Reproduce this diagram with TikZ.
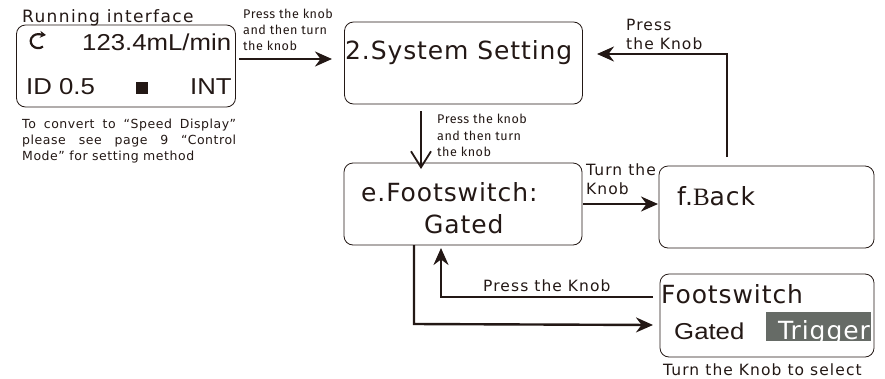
\documentclass[tikz,border=0pt]{standalone}
\usepackage{fontspec}
\usepackage{tikz}
\usetikzlibrary{arrows.meta}
\setmainfont{DejaVu Sans}
\newfontfamily\bigfont[LetterSpace=3.6]{DejaVu Sans}
\newfontfamily\midfont[LetterSpace=8]{DejaVu Sans}
\newfontfamily\labfont[LetterSpace=7]{DejaVu Sans}
\newfontfamily\notefont[LetterSpace=4.3]{DejaVu Sans}
\newfontfamily\armfont[FakeStretch=1.12]{Liberation Sans}
\newfontfamily\smallfont[LetterSpace=4]{Fira Sans}
\newfontfamily\backfont{Liberation Serif}
\definecolor{ink}{HTML}{231815}
\definecolor{selgrey}{HTML}{666B66}
\tikzset{
	every node/.style={inner sep=0pt, anchor=base west, text=ink}
}
\tikzset{
	screen/.style={draw=ink, line width=0.8pt, rounded corners=9pt, anchor=center,
		minimum height=82pt, minimum width=238pt},
	big/.style={font=\bigfont\fontsize{25}{25}\selectfont},
	mid/.style={font=\midfont\fontsize{17}{17}\selectfont},
	lcd/.style={font=\armfont\fontsize{23}{23}\selectfont},
	lab/.style={font=\labfont\fontsize{15.5}{15.5}\selectfont},
	tiny/.style={font=\smallfont\fontsize{12.6}{12.6}\selectfont},
	note/.style={font=\notefont\fontsize{12.5}{12.5}\selectfont},
	flow/.style={draw=ink, line width=2.4pt, line join=miter, -{Stealth[length=17pt,width=15pt]}},
	thinflow/.style={draw=ink, line width=1.8pt, -{Straight Barb[length=16pt,width=20pt,line width=1.8pt]}}
}

\begin{document}
\begin{tikzpicture}[x=1pt,y=-1pt]
	\useasboundingbox (0,0) rectangle (885,378);
	\node (run) [screen, minimum width=219pt] at (126,66) {};
	\node (sys) [screen] at (463.5,63) {};
	\node (foot) [screen] at (463,204) {};
	\node (back) [screen, minimum width=215pt] at (766.5,207) {};
	\node (sel) [screen, minimum width=214pt, minimum height=83pt] at (767,315.5) {};
	\fill [selgrey] (766,312) rectangle (871,341);

	\node (runtitle) [mid] at (22,22) {Running interface};
	\node (rate) [lcd] at (82,50) {123.4mL/min};
	\node (idval) [lcd] at (26,94) {ID 0.5};
	\node (stopmark) [fill=ink, minimum size=12pt, anchor=center] at (141.5,88) {};
	\node (intmode) [lcd] at (190,94) {INT};
	\draw [ink, line width=2.2pt, -{Stealth[length=6pt,width=7pt]}] (43,46.5) arc (-50:-270:7.5pt and 7pt) -- (46,35);

	\node (note1) [note] at (22,128) {\makebox[214pt][s]{To convert  to “Speed Display”}};
	\node (note2) [note] at (22,144) {\makebox[214pt][s]{please see page 9 “Control}};
	\node (note3) [note] at (22,160) {Mode” for setting method};

	\node (systext) [big] at (345,59) {2.System Setting};
	\node (foottext) [big] at (361,201) {e.Footswitch:};
	\node (gatedtext) [big] at (424,233) {Gated};
	\node (backtext) [big] at (677,205) {f.{\backfont B}ack};
	\node (seltitle) [big] at (661,303) {Footswitch};
	\node (selgated) [lcd] at (674,339) {Gated};
	\begin{scope}
		\clip (766,312) rectangle (871,341);
		\node (seltrig) [big, text=white] at (778,339) {Trigger};
	\end{scope}

	\node (hint1a) [tiny] at (243,18) {Press the knob};
	\node (hint1b) [tiny] at (243,34) {and then turn};
	\node (hint1c) [tiny] at (243,50) {the knob};
	\node (hint2a) [tiny] at (437,123) {Press the knob};
	\node (hint2b) [tiny] at (437,140) {and then turn};
	\node (hint2c) [tiny] at (437,156) {the knob};
	\node (hint3a) [lab] at (626,30) {Press};
	\node (hint3b) [lab] at (626,49) {the Knob};
	\node (hint4a) [lab] at (586,175) {Turn the};
	\node (hint4b) [lab] at (586,194) {Knob};
	\node (hint5) [lab] at (483,291) {Press the Knob};
	\node (hint6) [lab] at (663,375) {Turn the Knob to select};

	\coordinate (runout) at (239,59);
	\coordinate (sysin) at (332,59);
	\coordinate (backout) at (727,157);
	\coordinate (backup) at (727,54);
	\coordinate (sysback) at (597,54);
	\coordinate (sysout) at (421,111);
	\coordinate (footin) at (421,169);
	\coordinate (footout) at (583,204);
	\coordinate (backin) at (658,204);
	\coordinate (selout) at (653,297);
	\coordinate (selturn) at (441,297);
	\coordinate (footret) at (441,248);
	\coordinate (footdown) at (414,245);
	\coordinate (footturn) at (414,324);
	\coordinate (selin) at (653,325);

	\draw [flow] (runout) -- (sysin);
	\draw [flow] (backout) -- (backup) -- (sysback);
	\draw [thinflow] (sysout) -- (footin);
	\draw [flow] (footout) -- (backin);
	\draw [flow] (selout) -- (selturn) -- (footret);
	\draw [flow] (footdown) -- (footturn) -- (selin);
\end{tikzpicture}
\end{document}
